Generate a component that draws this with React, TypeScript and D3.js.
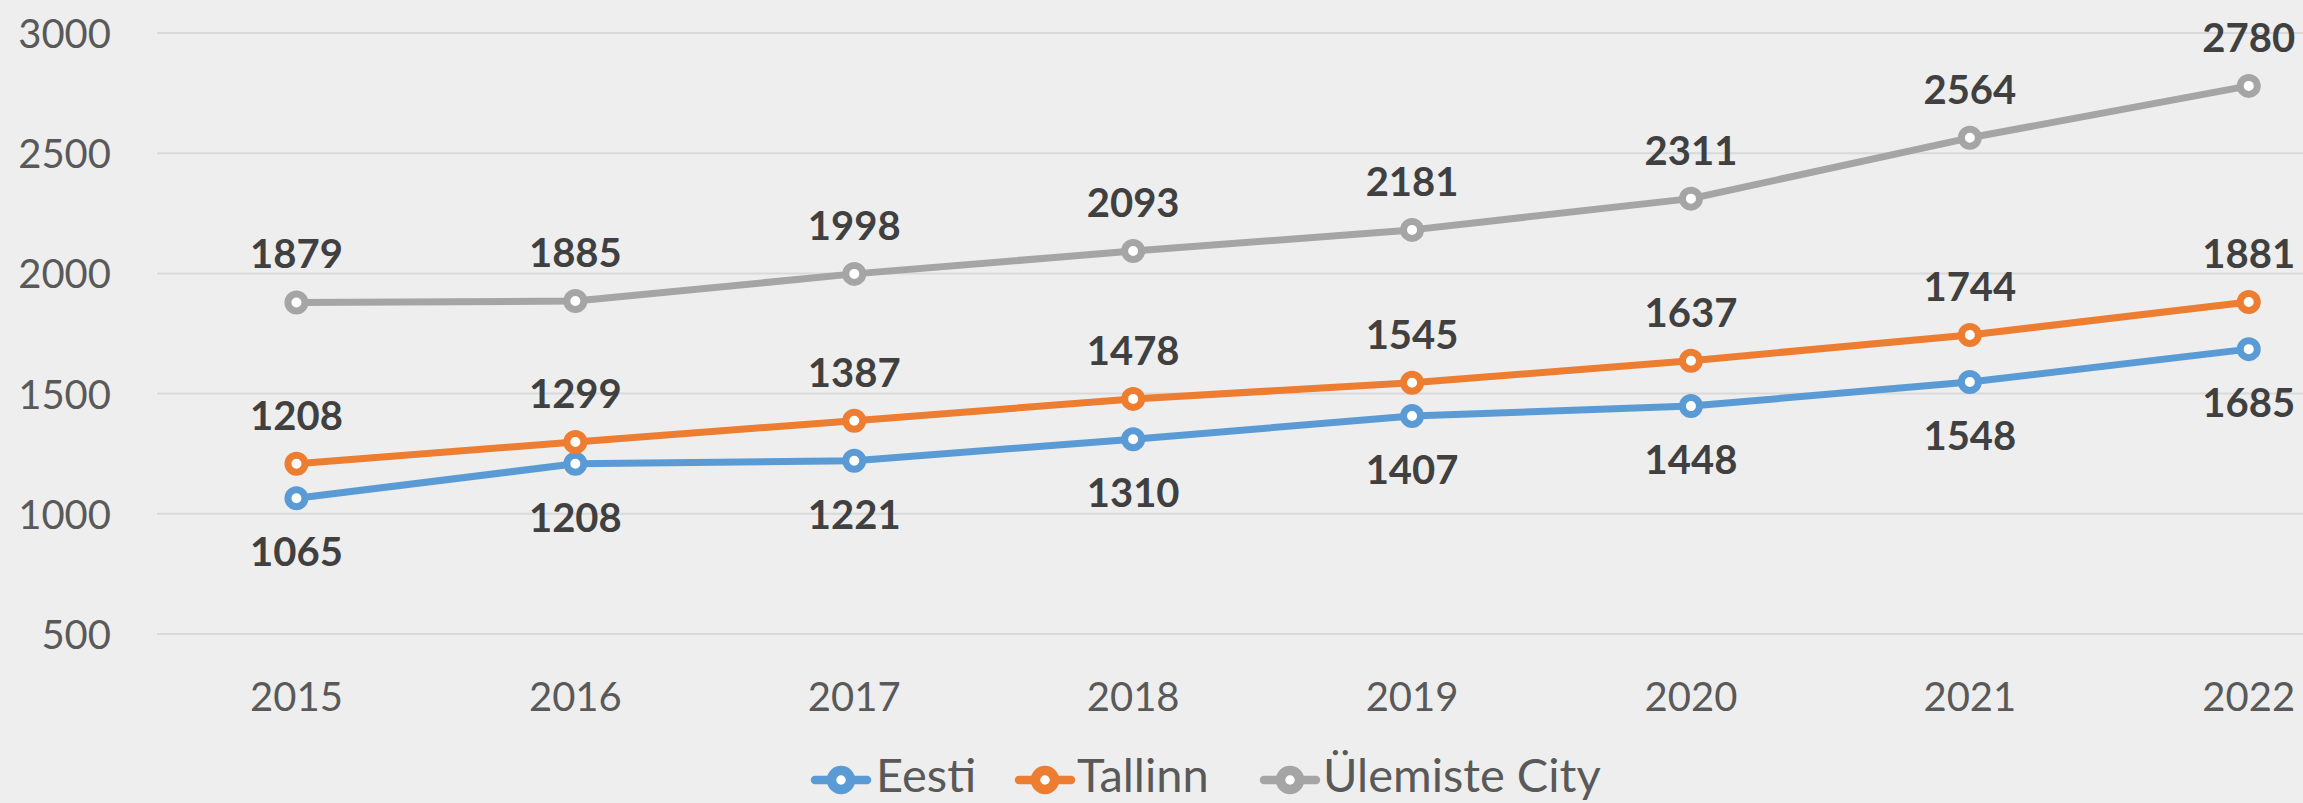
import React from "react";
import * as d3 from "d3";

const years = ["2015", "2016", "2017", "2018", "2019", "2020", "2021", "2022"];
const eesti = [1065, 1208, 1221, 1310, 1407, 1448, 1548, 1685];
const tallinn = [1208, 1299, 1387, 1478, 1545, 1637, 1744, 1881];
const ulemiste = [1879, 1885, 1998, 2093, 2181, 2311, 2564, 2780];
const yTicks = [500, 1000, 1500, 2000, 2500, 3000];
const seriesNames = ["Eesti", "Tallinn", "Ülemiste City"];

const W = 2303;
const H = 803;
const FONT = "Lato, 'Open Sans', sans-serif";

export default function App() {
  const x = d3.scaleBand<string>().domain(years).range([157, 157 + 278.9 * 8]);
  const y = d3.scaleLinear().domain([500, 3000]).range([634, 33]);
  const cx = (yr: string) => (x(yr) as number) + x.bandwidth() / 2;

  const series = [
    { name: seriesNames[0], values: eesti, color: "#5B9BD5", labelPos: "below" },
    { name: seriesNames[1], values: tallinn, color: "#ED7D31", labelPos: "above" },
    { name: seriesNames[2], values: ulemiste, color: "#A5A5A5", labelPos: "above" },
  ];

  const line = d3
    .line<number>()
    .x((_, i) => cx(years[i]))
    .y((d) => y(d));

  const legendItems = [
    { name: seriesNames[0], color: "#5B9BD5", mx: 841, tx: 876 },
    { name: seriesNames[1], color: "#ED7D31", mx: 1045, tx: 1077 },
    { name: seriesNames[2], color: "#A5A5A5", mx: 1290, tx: 1323 },
  ];
  const LY = 780;

  return (
    <div style={{ position: "absolute", left: 0, top: 0, width: W, height: H }}>
      <svg width={W} height={H} style={{ display: "block" }} fontFamily={FONT}>
        <rect x={0} y={0} width={W} height={H} fill="#EEEEEE" />
        {yTicks.map((t) => (
          <g key={t}>
            <line x1={157} x2={W} y1={y(t)} y2={y(t)} stroke="#D9D9D9" strokeWidth={2} />
            <text
              x={111}
              y={y(t)}
              textAnchor="end"
              dominantBaseline="central"
              fontSize={40}
              fill="#595959"
            >
              {t}
            </text>
          </g>
        ))}
        {years.map((yr) => (
          <text
            key={yr}
            x={cx(yr)}
            y={696}
            textAnchor="middle"
            dominantBaseline="central"
            fontSize={40}
            fill="#595959"
          >
            {yr}
          </text>
        ))}
        {series.map((s) => (
          <g key={s.name}>
            <path d={line(s.values) || ""} fill="none" stroke={s.color} strokeWidth={7} strokeLinejoin="round" />
            {s.values.map((v, i) => (
              <circle key={i} cx={cx(years[i])} cy={y(v)} r={8.5} fill="#FFFFFF" stroke={s.color} strokeWidth={7} />
            ))}
          </g>
        ))}
        {series.map((s) =>
          s.values.map((v, i) => (
            <text
              key={s.name + i}
              x={cx(years[i])}
              y={y(v) + (s.labelPos === "above" ? -49 : 53)}
              textAnchor="middle"
              dominantBaseline="central"
              fontSize={40}
              fontWeight="bold"
              fill="#404040"
            >
              {v}
            </text>
          ))
        )}
        {legendItems.map((l) => (
          <g key={l.name}>
            <line x1={l.mx - 26} x2={l.mx + 26} y1={LY} y2={LY} stroke={l.color} strokeWidth={8.5} strokeLinecap="round" />
            <circle cx={l.mx} cy={LY} r={9.5} fill="#FFFFFF" stroke={l.color} strokeWidth={9.5} />
            <text x={l.tx} y={792} fontSize={47} fill="#595959">
              {l.name}
            </text>
          </g>
        ))}
      </svg>
    </div>
  );
}
